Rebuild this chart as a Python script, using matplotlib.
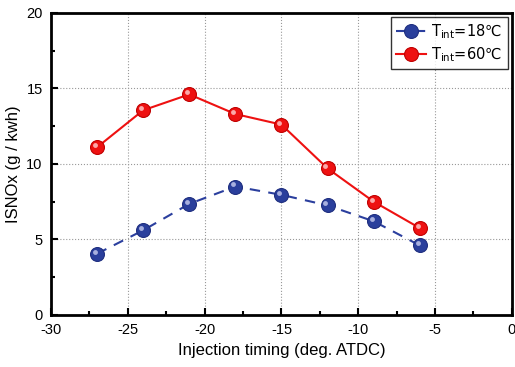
import matplotlib
matplotlib.use("Agg")
import matplotlib.pyplot as plt
from matplotlib.ticker import MultipleLocator
from matplotlib.transforms import ScaledTranslation

plt.rcParams['font.family'] = ['Liberation Sans', 'DejaVu Sans']
plt.rcParams['axes.unicode_minus'] = False
plt.rcParams['mathtext.fontset'] = 'custom'
plt.rcParams['mathtext.rm'] = 'Liberation Sans'

timing = [-27, -24, -21, -18, -15, -12, -9, -6]
nox_18 = [4.05, 5.6, 7.35, 8.5, 7.95, 7.25, 6.2, 4.6]
nox_60 = [11.1, 13.55, 14.6, 13.3, 12.6, 9.7, 7.5, 5.75]

fig = plt.figure(figsize=(5.15, 3.67), dpi=100)
ax = fig.add_axes([0.099, 0.142, 0.895, 0.823])

ax.plot(timing, nox_18, ls=(0, (5, 4)), color='#2b3f9e', lw=1.5, marker='o',
        markersize=10, markerfacecolor='#2a3f9c', markeredgecolor='#1f2f80',
        markeredgewidth=0.8, label='T$_{\\mathregular{int}}$=18\u2103', zorder=3)
ax.plot(timing, nox_60, ls='-', color='#ee1111', lw=1.5, marker='o',
        markersize=10, markerfacecolor='#ee1111', markeredgecolor='#c00000',
        markeredgewidth=0.8, label='T$_{\\mathregular{int}}$=60\u2103', zorder=3)

# sphere highlights
hl = ax.transData + ScaledTranslation(-1.5 / 72, 1.5 / 72, fig.dpi_scale_trans)
ax.plot(timing, nox_18, ls='none', marker='o', markersize=3.5,
        markerfacecolor='#c8cdf0', markeredgecolor='none', alpha=0.8,
        transform=hl, zorder=4)
ax.plot(timing, nox_60, ls='none', marker='o', markersize=3.5,
        markerfacecolor='#ffd0d0', markeredgecolor='none', alpha=0.8,
        transform=hl, zorder=4)

ax.set_xlim(-30, 0)
ax.set_ylim(0, 20)
ax.xaxis.set_major_locator(MultipleLocator(5))
ax.xaxis.set_minor_locator(MultipleLocator(2.5))
ax.yaxis.set_major_locator(MultipleLocator(5))
ax.yaxis.set_minor_locator(MultipleLocator(2.5))
ax.tick_params(which='both', direction='in', labelsize=10.5, width=1.5)
ax.tick_params(which='major', length=5)
ax.tick_params(which='minor', length=3)
ax.tick_params(axis='x', pad=6)
ax.tick_params(axis='y', pad=6)
ax.grid(True, which='major', ls=':', color='#999999', lw=0.8)
for s in ax.spines.values():
    s.set_linewidth(2)

ax.set_xlabel('Injection timing (deg. ATDC)', fontsize=12)
ax.set_ylabel('ISNOx (g / kwh)', fontsize=12)

leg = ax.legend(loc='upper right', frameon=True, fancybox=False,
                edgecolor='black', handlelength=2.0, borderpad=0.35,
                labelspacing=0.3, handletextpad=0.4, borderaxespad=0.3,
                prop={'family': ['DejaVu Sans'], 'size': 10.5})
leg.get_frame().set_linewidth(1.0)

fig.savefig('out.png', dpi=100)
